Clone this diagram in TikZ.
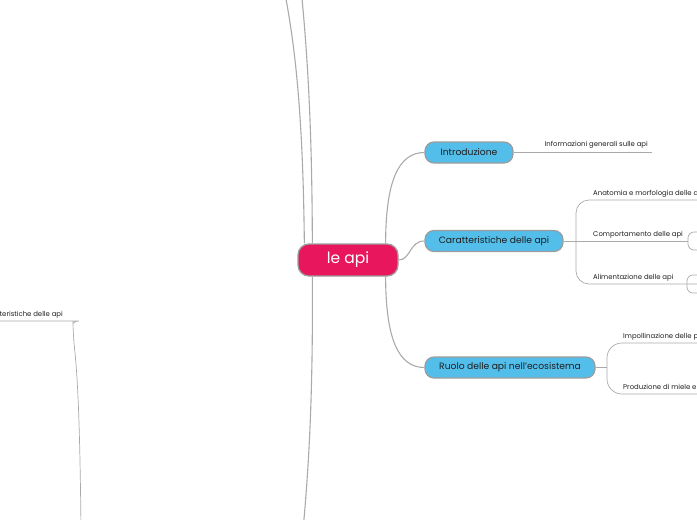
\documentclass[tikz,border=0pt]{standalone}
\usepackage{fontspec}
\setmainfont{Poppins}
\usetikzlibrary{positioning}
\definecolor{apipink}{HTML}{E8175D}
\definecolor{apiblue}{HTML}{54BEEB}
\definecolor{apigray}{HTML}{AAAAAA}
\definecolor{apiedge}{HTML}{9C9C9C}
\definecolor{apitext}{HTML}{1E1E1E}

\begin{document}
\begin{tikzpicture}[x=1pt, y=-1pt,
  topic/.style={draw=apiedge, line width=1.2pt, rectangle, rounded corners=9pt, fill=apiblue,
    text=apitext, font=\fontsize{9.2}{11}\selectfont, inner sep=0pt, minimum height=21pt},
  leaf/.style={text=apitext, font=\fontsize{6.9}{8}\selectfont, inner sep=0pt},
  link/.style={draw=apigray, line width=1.1pt},
  twig/.style={draw=apigray, line width=0.7pt, rounded corners=13pt}]
  \useasboundingbox (0,0) rectangle (697,520);
  \clip (0,0) rectangle (697,520);

  % Nodes
  \node[draw=apiedge, line width=1.3pt, fill=apipink, rounded corners=11pt, minimum width=100pt,
    minimum height=32pt, text=white, font=\fontsize{15.5}{18}\selectfont] (root) at (348,260) {le api};
  \node[topic, minimum width=88pt] (intro) at (469,152.5) {Introduzione};
  \node[topic, minimum width=138pt] (carat) at (494,241) {Caratteristiche delle api};
  \node[topic, minimum width=170pt] (ruolo) at (510,367.5) {Ruolo delle api nell'ecosistema};

  % Free ends (branches running out of the frame)
  \coordinate (up1) at (280,-30);
  \coordinate (up2) at (298,-40);
  \coordinate (down1) at (302,540);
  \coordinate (left1) at (-30,321);
  \coordinate (left2) at (81,530);
  \coordinate (introend) at (652,152.5);
  \coordinate (anat) at (710,200);
  \coordinate (alim) at (710,284);
  \coordinate (compa) at (710,232);
  \coordinate (compb) at (710,250);
  \coordinate (alima) at (710,275);
  \coordinate (alimb) at (710,293);
  \coordinate (impo) at (710,343);
  \coordinate (prod) at (710,394);

  % Edges
  \draw[link] ([xshift=7pt]root.north west) .. controls (303,120) and (296,40) .. (up1);
  \draw[link] ([xshift=15pt]root.north west) .. controls (312,120) and (307,40) .. (up2);
  \draw[link] ([xshift=15pt]root.south west) .. controls (313,380) and (310,460) .. (down1);
  \draw[link] ([xshift=-13pt]root.north east) .. controls +(0,-62) and +(-26,0) .. (intro.west);
  \draw[link] (root.east) .. controls +(12,0) and +(-15,0) .. (carat.west);
  \draw[link] ([xshift=-13pt]root.south east) .. controls +(0,62) and +(-26,0) .. (ruolo.west);

  \draw[twig] (intro.east) -- (introend);
  \draw[twig] (carat.east) -- (688,241);
  \draw[twig] (anat) -- (576,200) -- (576,284) -- (alim);
  \draw[twig, rounded corners=6pt] (compa) -- (688,232) -- (688,250) -- (compb);
  \draw[twig, rounded corners=6pt] (alima) -- (687,275) -- (687,293) -- (alimb);
  \draw[twig] (ruolo.east) -- (607,367.5);
  \draw[twig, rounded corners=15pt] (impo) -- (607,343) -- (607,394) -- (prod);
  \draw[twig] (left1) -- (66,321) .. controls (72,321) and (73,327) .. (73,334)
    .. controls (78,380) and (80,430) .. (left2);

  % Labels
  \node[leaf, above left=4pt and 4pt of introend] {Informazioni generali sulle api};
  \node[leaf, anchor=base west] at (593,195.5) {Anatomia e morfologia delle api};
  \node[leaf, anchor=base west] at (593,236.5) {Comportamento delle api};
  \node[leaf, anchor=base west] at (593,279.5) {Alimentazione delle api};
  \node[leaf, anchor=base west] at (623,338.5) {Impollinazione delle piante};
  \node[leaf, anchor=base west] at (623,389) {Produzione di miele e cera};
  \node[leaf, anchor=base east] at (63,316.5) {Caratteristiche delle api};
\end{tikzpicture}
\end{document}
